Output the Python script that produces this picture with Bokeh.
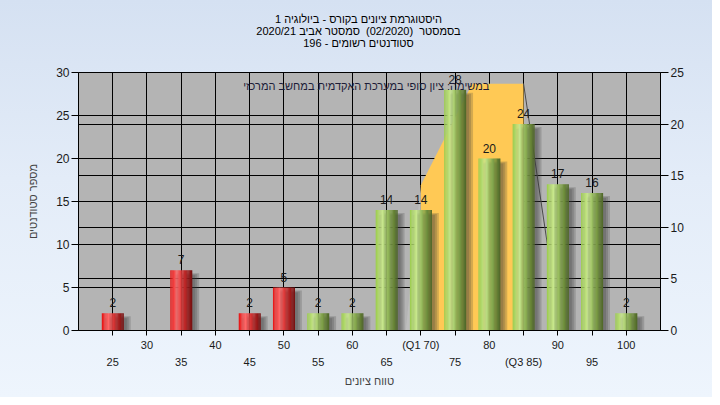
from bokeh.plotting import figure
from bokeh.models import Range1d, LinearAxis, FixedTicker, Grid, Label
from bokeh.core.properties import value
from bokeh.embed import file_html
from bokeh.resources import INLINE

# ---------------- data ----------------
grades = [25, 35, 45, 50, 55, 60, 65, 70, 75, 80, 85, 90, 95, 100]
counts = [2, 7, 2, 5, 2, 2, 14, 14, 28, 20, 24, 17, 16, 2]
pass_grade = 55

x_ticks = [25, 30, 35, 40, 45, 50, 55, 60, 65, 70, 75, 80, 85, 90, 95, 100]
upper_tick_labels = {30: "30", 40: "40", 50: "50", 60: "60", 70: "(Q1 70)",
                     80: "80", 90: "90", 100: "100"}
lower_tick_labels = {25: "25", 35: "35", 45: "45", 55: "55", 65: "65",
                     75: "75", 85: "(Q3 85)", 95: "95"}
left_ticks = [0, 5, 10, 15, 20, 25, 30]
right_ticks = [0, 5, 10, 15, 20, 25]

# inter-quartile band (yellow) and its edge line
band_x = [70, 70, 77.5, 85, 85]
band_y = [0, 16.9, 28.7, 28.7, 0]
band_side_x = [67.8, 70, 70]
band_side_y = [0, 16.9, 0]
edge_x = [85, 88.5]
edge_y = [28.7, 9.9]

title_lines = [
    "היסטוגרמת ציונים בקורס - ביולוגיה 1",
    "בסמסטר \u00a0(02/2020)\u00a0 סמסטר אביב 2020/21",
    "סטודנטים רשומים - 196",
]
note_text = "במשימה: ציון סופי במערכת האקדמית במחשב המרכזי"
y_label = "מספר סטודנטים"
x_label = "טווח ציונים"

FONT = "Liberation Sans"

# ---------------- figure ----------------
p = figure(width=712, height=397, x_range=Range1d(20, 105), y_range=Range1d(0, 30),
           output_backend="svg", toolbar_location=None, x_axis_type=None,
           min_border_left=78, min_border_right=52, min_border_top=72, min_border_bottom=67,
           background_fill_color="#B4B4B4", border_fill_color=None,
           outline_line_color="black", outline_line_width=1)
p.styles = {"background": "linear-gradient(180deg, #D5E1F2 0%, #E3ECF8 45%, #EEF5FD 100%)"}

# title: three centred lines in canvas pixels, in the panel above the frame
for i, line in enumerate(title_lines):
    p.add_layout(Label(x=358, y=18 + 12 * i, x_units="canvas", y_units="canvas",
                       text=line, text_align="center", text_baseline="middle",
                       text_font=FONT, text_font_size="11px", text_color="#000000"),
                 "above")

# left axis
ya = p.yaxis[0]
ya.ticker = FixedTicker(ticks=left_ticks)
ya.axis_label = y_label
ya.axis_label_text_font = FONT
ya.axis_label_text_font_style = "normal"
ya.axis_label_text_font_size = "11px"
ya.axis_label_standoff = 14
ya.major_label_text_font = FONT
ya.major_label_text_font_size = "12px"
ya.major_label_text_color = "#1a1a1a"
ya.major_tick_out = 7
ya.major_tick_in = 0
ya.minor_tick_out = 0
ya.minor_tick_in = 0
ya.major_label_standoff = 2
ya.axis_line_color = "black"
ya.major_tick_line_color = "black"

p.ygrid.ticker = FixedTicker(ticks=left_ticks)
p.ygrid.grid_line_color = "black"
p.ygrid.grid_line_alpha = 1.0

# right axis
p.extra_y_ranges = {"right": Range1d(0, 25)}
ra = LinearAxis(y_range_name="right", ticker=FixedTicker(ticks=right_ticks))
ra.major_label_text_font = FONT
ra.major_label_text_font_size = "12px"
ra.major_label_text_color = "#1a1a1a"
ra.major_tick_out = 8
ra.major_tick_in = 0
ra.minor_tick_out = 0
ra.minor_tick_in = 0
ra.major_label_standoff = 2
ra.axis_line_color = "black"
p.add_layout(ra, "right")
p.add_layout(Grid(dimension=1, y_range_name="right",
                  ticker=FixedTicker(ticks=right_ticks),
                  grid_line_color="black"))

# vertical grid
p.add_layout(Grid(dimension=0, ticker=FixedTicker(ticks=x_ticks), grid_line_color="black"))

# bottom axes (two label rows)
xa1 = LinearAxis(ticker=FixedTicker(ticks=x_ticks))
xa1.major_label_overrides = {t: upper_tick_labels.get(t, "") for t in x_ticks}
xa1.major_label_text_font = FONT
xa1.major_label_text_font_size = "11px"
xa1.major_label_text_color = "#1a1a1a"
xa1.major_tick_out = 5
xa1.major_tick_in = 0
xa1.minor_tick_out = 0
xa1.minor_tick_in = 0
xa1.major_label_standoff = 3
xa1.axis_line_color = "black"
p.add_layout(xa1, "below")

lower_ticks = sorted(lower_tick_labels)
xa2 = LinearAxis(ticker=FixedTicker(ticks=lower_ticks))
xa2.major_label_overrides = lower_tick_labels
xa2.major_label_text_font = FONT
xa2.major_label_text_font_size = "11px"
xa2.major_label_text_color = "#1a1a1a"
xa2.major_tick_out = 0
xa2.major_tick_in = 0
xa2.minor_tick_out = 0
xa2.minor_tick_in = 0
xa2.major_label_standoff = 2
xa2.axis_line_color = None
xa2.major_tick_line_color = None
xa2.axis_label = x_label
xa2.axis_label_text_font = FONT
xa2.axis_label_text_font_style = "normal"
xa2.axis_label_text_font_size = "11px"
xa2.axis_label_standoff = 4
p.add_layout(xa2, "below")

# ---------------- IQR band ----------------
p.patch(band_side_x, band_side_y, fill_color="#BEBEBE", line_color=None)
p.patch(band_x, band_y, fill_color="#FFC955", line_color=None)
p.line(edge_x, edge_y, line_color="#4a4a4a", line_width=1)

# ---------------- bars ----------------
HALF = 1.6          # half bar width in grade units
PX_X = 85 / 582     # grade units per screen px
PX_Y = 30 / 258     # count units per screen px


def lerp_hex(stops, t):
    for (t0, c0), (t1, c1) in zip(stops, stops[1:]):
        if t0 <= t <= t1:
            f = 0 if t1 == t0 else (t - t0) / (t1 - t0)
            a = [int(c0[i:i + 2], 16) for i in (1, 3, 5)]
            b = [int(c1[i:i + 2], 16) for i in (1, 3, 5)]
            return "#%02x%02x%02x" % tuple(round(a[k] + (b[k] - a[k]) * f) for k in range(3))
    return stops[-1][1]


green_stops = [(0.0, "#9CCB4E"), (0.3, "#C8E78E"), (0.55, "#94B95A"), (0.8, "#6C8A3A"), (1.0, "#4E6528")]
red_stops = [(0.0, "#E41414"), (0.3, "#FF6868"), (0.55, "#D63434"), (0.8, "#A01C1C"), (1.0, "#741010")]

# shadows
for k, off in enumerate([7, 5, 3]):
    p.quad(left=[g - HALF + off * PX_X for g in grades],
           right=[g + HALF + off * PX_X for g in grades],
           top=[c - (3 + k) * PX_Y for c in counts],
           bottom=[0] * len(grades),
           fill_color="#3a3a3a", fill_alpha=0.22, line_color=None)

N = 18
L, R, T, B, C = [], [], [], [], []
for g, c in zip(grades, counts):
    stops = red_stops if g < pass_grade else green_stops
    for j in range(N):
        L.append(g - HALF + 2 * HALF * j / N)
        R.append(g - HALF + 2 * HALF * (j + 1) / N + 0.02)
        T.append(c)
        B.append(0)
        C.append(lerp_hex(stops, (j + 0.5) / N))
p.quad(left=L, right=R, top=T, bottom=B, fill_color=C, line_color=None)

# value labels
p.text(x=grades, y=counts, text=[str(c) for c in counts],
       text_align="center", text_baseline="bottom", y_offset=-6,
       text_font=value(FONT), text_font_size="12px", text_color="#1a1a1a")

# note
p.text(x=[80], y=[28.4], text=[note_text], text_align="right", text_baseline="middle",
       text_font=value(FONT), text_font_size="11px", text_color="#1c1c38")

open("out.html", "w").write(file_html(p, INLINE))
